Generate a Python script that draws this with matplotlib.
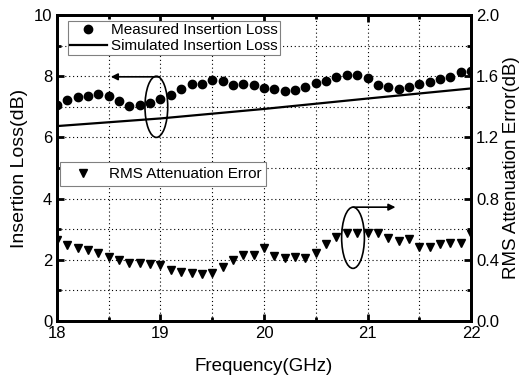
import matplotlib
matplotlib.use("Agg")
import matplotlib.pyplot as plt
from matplotlib.patches import Ellipse
from matplotlib.ticker import MultipleLocator
import numpy as np

plt.rcParams['font.family'] = ['Liberation Sans', 'DejaVu Sans']

# measured insertion loss (dB), 18.0 .. 22.0 GHz step 0.1
freq_meas = np.round(np.arange(18.0, 22.05, 0.1), 1)
loss_meas = [7.05,
             7.22, 7.31, 7.35, 7.42, 7.35, 7.20, 7.03, 7.05, 7.11, 7.24,
             7.37, 7.58, 7.75, 7.75, 7.88, 7.83, 7.72, 7.75, 7.70, 7.60,
             7.57, 7.52, 7.55, 7.64, 7.79, 7.84, 7.96, 8.03, 8.03, 7.94,
             7.70, 7.64, 7.57, 7.64, 7.73, 7.81, 7.92, 7.98, 8.15, 8.18]

# simulated insertion loss (dB)
freq_sim = [18.0, 19.0, 20.0, 21.0, 22.0]
loss_sim = [6.37, 6.62, 6.93, 7.27, 7.60]

# RMS attenuation error (dB), 18.0 .. 22.0 GHz step 0.1
freq_rms = np.round(np.arange(18.0, 22.05, 0.1), 1)
rms_err = [0.53, 0.495, 0.48, 0.464, 0.442, 0.416, 0.399, 0.381, 0.377, 0.373,
           0.366, 0.333, 0.322, 0.312, 0.305, 0.312, 0.351, 0.399, 0.431, 0.431,
           0.475, 0.425, 0.415, 0.42, 0.415, 0.443, 0.50, 0.547, 0.573, 0.573,
           0.573, 0.573, 0.541, 0.525, 0.534, 0.486, 0.481, 0.503, 0.507, 0.507,
           0.57]

fig = plt.figure(figsize=(5.2, 3.81), dpi=100)
ax = fig.add_axes([0.1096, 0.1575, 0.7962, 0.8031])
ax2 = ax.twinx()

h1, = ax.plot(freq_meas, loss_meas, 'o', color='black', markersize=6,
              label='Measured Insertion Loss', zorder=3)
h2, = ax.plot(freq_sim, loss_sim, '-', color='black', linewidth=1.6,
              label='Simulated Insertion Loss')
h3, = ax2.plot(freq_rms, rms_err, 'v', color='black', markersize=6,
               label='RMS Attenuation Error', zorder=3)

ax.set_xlim(18, 22)
ax.set_ylim(0, 10)
ax2.set_ylim(0, 2.0)

ax.xaxis.set_major_locator(MultipleLocator(1))
ax.xaxis.set_minor_locator(MultipleLocator(0.5))
ax.yaxis.set_major_locator(MultipleLocator(2))
ax.yaxis.set_minor_locator(MultipleLocator(1))
ax2.yaxis.set_major_locator(MultipleLocator(0.4))
ax2.yaxis.set_minor_locator(MultipleLocator(0.2))
ax2.yaxis.set_major_formatter(plt.FormatStrFormatter('%.1f'))

ax.grid(True, which='both', linestyle=(0, (1, 2.5)), color='black', linewidth=0.8)

for a in (ax, ax2):
    for s in a.spines.values():
        s.set_linewidth(2)
ax.tick_params(which='both', direction='in', top=True, width=2, labelsize=12)
ax.tick_params(which='major', length=5)
ax.tick_params(which='minor', length=3)
ax2.tick_params(which='both', direction='in', width=2, labelsize=12)
ax2.tick_params(which='major', length=5)
ax2.tick_params(which='minor', length=3)

ax.set_xlabel('Frequency(GHz)', fontsize=13.5, labelpad=12)
ax.set_ylabel('Insertion Loss(dB)', fontsize=14, labelpad=4)
ax2.set_ylabel('RMS Attenuation Error(dB)', fontsize=13.5, labelpad=3)

leg1 = ax.legend(handles=[h1, h2], loc='upper left', bbox_to_anchor=(0.026, 0.98),
                 fontsize=11, fancybox=False, edgecolor='gray', framealpha=1,
                 borderpad=0.15, handlelength=2.4, handletextpad=0.3,
                 labelspacing=0.1, borderaxespad=0)
leg1.get_frame().set_linewidth(0.8)
leg2 = ax2.legend(handles=[h3], loc='upper left', bbox_to_anchor=(0.007, 0.518),
                  fontsize=11, fancybox=False, edgecolor='gray', framealpha=1,
                  borderpad=0.3, handlelength=2.4, handletextpad=0.5,
                  borderaxespad=0)
leg2.get_frame().set_linewidth(0.8)

# ellipses and arrows marking which axis each curve uses
ax.add_patch(Ellipse((18.96, 7.0), 0.22, 2.0, fill=False, edgecolor='black', linewidth=1.2))
ax.annotate('', xy=(18.52, 7.98), xytext=(18.99, 7.98),
            arrowprops=dict(arrowstyle='-|>', color='black', linewidth=1.2,
                            mutation_scale=10, shrinkA=0, shrinkB=0))
ax.add_patch(Ellipse((20.86, 2.72), 0.22, 2.0, fill=False, edgecolor='black', linewidth=1.2))
ax.annotate('', xy=(21.27, 3.72), xytext=(20.86, 3.72),
            arrowprops=dict(arrowstyle='-|>', color='black', linewidth=1.2,
                            mutation_scale=10, shrinkA=0, shrinkB=0))

fig.savefig('out.png', dpi=100)
